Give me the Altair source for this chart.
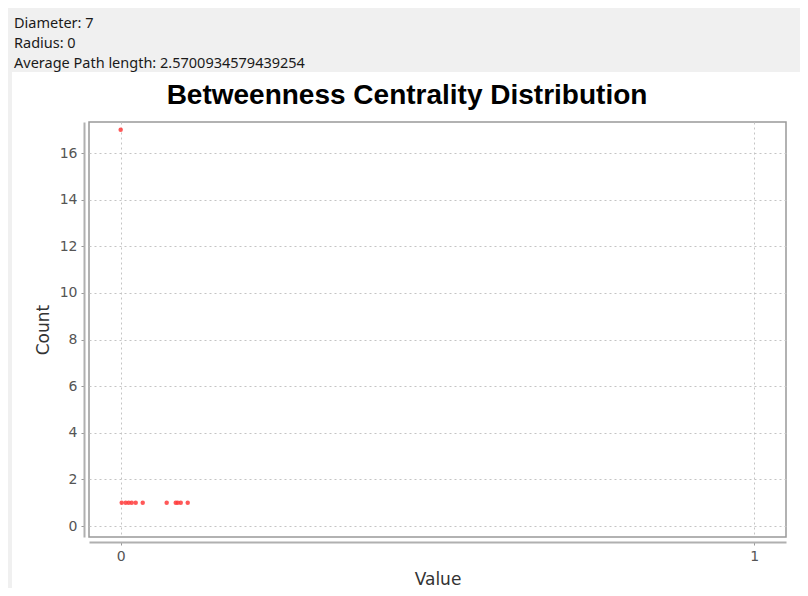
import altair as alt
import pandas as pd

# Data
values = [0.0, 0.0016, 0.0079, 0.0126, 0.0174, 0.0237, 0.0348, 0.0726, 0.0869, 0.0900, 0.0948, 0.1058]
counts = [17, 1, 1, 1, 1, 1, 1, 1, 1, 1, 1, 1]
header_lines = ["Diameter: 7", "Radius: 0", "Average Path length: 2.5700934579439254"]
chart_title = "Betweenness Centrality Distribution"
y_ticks = [0, 2, 4, 6, 8, 10, 12, 14, 16]
x_ticks = [0, 1]

df = pd.DataFrame({"value": values, "count": counts})
one = alt.Data(values=[{}])

header_bg = alt.Chart(one).mark_rect(color="#f0f0f0").encode(
    x=alt.value(-81), x2=alt.value(711), y=alt.value(-114), y2=alt.value(-50)
)
left_strip = alt.Chart(one).mark_rect(color="#f0f0f0").encode(
    x=alt.value(-81), x2=alt.value(-77), y=alt.value(-50), y2=alt.value(466)
)
header_text = alt.Chart(one).mark_text(
    align="left", baseline="alphabetic", lineHeight=20, fontSize=14.5,
    font="Noto Sans", color="#1a1a1a"
).encode(x=alt.value(-75), y=alt.value(-94), text=alt.value(header_lines))

title_text = alt.Chart(one).mark_text(
    align="center", baseline="alphabetic", fontSize=28, fontWeight="bold",
    font="Liberation Sans", color="black"
).encode(x=alt.value(318), y=alt.value(-18), text=alt.value(chart_title))

points = alt.Chart(df).mark_circle(size=20, color="#ff3b3b", opacity=0.85).encode(
    x=alt.X("value:Q", title="Value",
            scale=alt.Scale(domain=[-0.05, 1.05], nice=False, zero=False),
            axis=alt.Axis(values=x_ticks, format="d", offset=5, titleY=42,
                          titleBaseline="alphabetic")),
    y=alt.Y("count:Q", title="Count",
            scale=alt.Scale(domain=[-0.47, 17.33], nice=False, zero=False),
            axis=alt.Axis(values=y_ticks, format="d", offset=5, titleX=-36,
                          titleBaseline="alphabetic")),
)

chart = alt.layer(header_bg, left_strip, header_text, title_text, points).properties(
    width=697, height=415,
    autosize=alt.AutoSizeParams(type="none"),
    padding={"left": 81, "top": 114, "right": 14, "bottom": 51},
    background="white",
).configure_view(
    stroke="#999999", strokeWidth=1.5
).configure_axis(
    grid=True, gridColor="#c4c4c4", gridDash=[2, 3], gridWidth=1,
    domainColor="#b0b0b0", domainWidth=2,
    tickColor="#999999", tickSize=3,
    labelFont="DejaVu Sans", labelFontSize=14, labelColor="#555555", labelPadding=4,
    titleFont="DejaVu Sans", titleFontSize=17, titleFontWeight="normal", titleColor="#333333",
)

chart.save("out.html", embed_options={"renderer": "svg", "actions": False})
